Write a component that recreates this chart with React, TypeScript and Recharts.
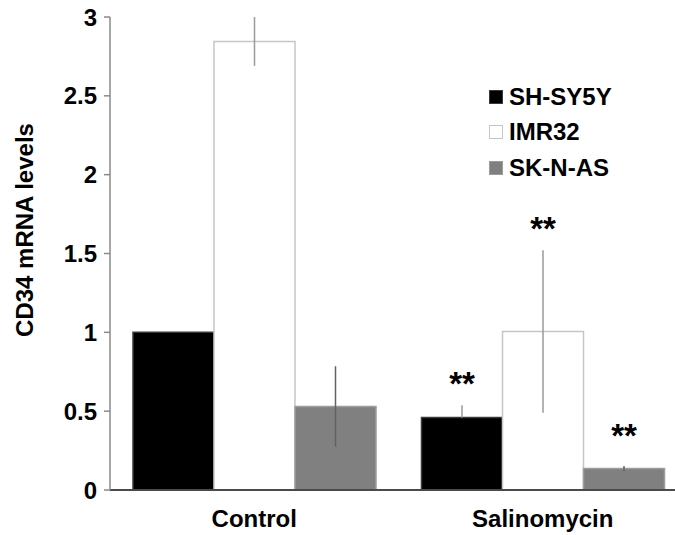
import { Bar, BarChart, ErrorBar, LabelList, Legend, XAxis, YAxis } from "recharts";

const categories = ["Control", "Salinomycin"];

// lower whisker of SH-SY5Y is hidden inside the black bar, only the upper part shows
const shsy5y = [1.0, 0.46];
const shsy5yErrLow = [0, 0];
const shsy5yErrHigh = [0, 0.078];
const shsy5ySig = ["", "**"];

const imr32 = [2.845, 1.005];
const imr32ErrLow = [0.155, 0.515];
const imr32ErrHigh = [0.155, 0.515];
const imr32Sig = ["", "**"];

const sknas = [0.53, 0.137];
const sknasErrLow = [0.255, 0.016];
const sknasErrHigh = [0.255, 0.016];
const sknasSig = ["", "**"];

const yTicks = [0, 0.5, 1, 1.5, 2, 2.5, 3];

const FONT = "'Liberation Sans', Arial, sans-serif";

type Series = {
  key: string;
  name: string;
  fill: string;
  stroke: string;
  errStroke: string;
  values: number[];
  errLow: number[];
  errHigh: number[];
  sig: string[];
};

const series: Series[] = [
  { key: "shsy5y", name: "SH-SY5Y", fill: "#000000", stroke: "#3a3a3a", errStroke: "#9a9a9a", values: shsy5y, errLow: shsy5yErrLow, errHigh: shsy5yErrHigh, sig: shsy5ySig },
  { key: "imr32", name: "IMR32", fill: "#ffffff", stroke: "#c6c6c6", errStroke: "#9a9a9a", values: imr32, errLow: imr32ErrLow, errHigh: imr32ErrHigh, sig: imr32Sig },
  { key: "sknas", name: "SK-N-AS", fill: "#808080", stroke: "#9c9c9c", errStroke: "#626262", values: sknas, errLow: sknasErrLow, errHigh: sknasErrHigh, sig: sknasSig },
];

const data = categories.map((category, i) => {
  const row: Record<string, any> = { category };
  series.forEach((s) => {
    row[s.key] = s.values[i];
    row[s.key + "Err"] = [s.errLow[i], s.errHigh[i]];
    row[s.key + "Sig"] = s.sig[i];
  });
  return row;
});

function sigLabel(s: Series) {
  return (props: any) => {
    const vb = props.viewBox ?? props;
    const { x, y, width, height } = vb;
    const index = props.index ?? 0;
    const mark = s.sig[index];
    if (!mark) return null;
    const unit = height / s.values[index];
    const errTop = y - s.errHigh[index] * unit;
    const baseline = Math.min(errTop - 10, y - 21);
    return (
      <text
        x={x + width / 2}
        y={baseline}
        textAnchor="middle"
        fontSize={33}
        fontWeight="bold"
        fontFamily={FONT}
        fill="#000"
      >
        {mark}
      </text>
    );
  };
}

function LegendBox() {
  return (
    <div style={{ fontFamily: FONT, fontSize: 24, fontWeight: "bold", color: "#000" }}>
      {series.map((s) => (
        <div key={s.key} style={{ display: "flex", alignItems: "center", height: 35.5 }}>
          <span
            style={{
              display: "inline-block",
              width: 12,
              height: 12,
              background: s.fill,
              border: `1px solid ${s.stroke}`,
              marginRight: 6,
            }}
          />
          <span>{s.name}</span>
        </div>
      ))}
    </div>
  );
}

export default function App() {
  return (
    <div
      style={{
        position: "absolute",
        left: 0,
        top: 0,
        width: 675,
        height: 535,
        overflow: "hidden",
        background: "#fff",
      }}
    >
      <BarChart
        width={700}
        height={535}
        data={data}
        margin={{ top: 17, right: 13, bottom: 0, left: 0 }}
        barCategoryGap={23}
        barGap={0}
      >
        <XAxis
          dataKey="category"
          height={45}
          tickLine={false}
          stroke="#4a4a4a"
          strokeWidth={2}
          tickMargin={14}
          tick={{ fontSize: 24, fontWeight: "bold", fill: "#000", fontFamily: FONT }}
        />
        <YAxis
          width={110}
          domain={[0, 3]}
          ticks={yTicks}
          stroke="#8a8a8a"
          strokeWidth={1.5}
          tickSize={6}
          tickMargin={7}
          tick={{ fontSize: 24, fontWeight: "bold", fill: "#000", fontFamily: FONT }}
          label={{
            content: () => (
              <text
                x={33}
                y={230}
                transform="rotate(-90 33 230)"
                textAnchor="middle"
                fontSize={24}
                fontWeight="bold"
                fontFamily={FONT}
                fill="#000"
              >
                CD34 mRNA levels
              </text>
            ),
          }}
        />
        <Legend
          layout="horizontal"
          verticalAlign="middle"
          align="center"
          content={() => <LegendBox />}
          wrapperStyle={{ top: 79, left: 489, width: 180 }}
        />
        {series.map((s) => (
          <Bar
            key={s.key}
            dataKey={s.key}
            name={s.name}
            fill={s.fill}
            stroke={s.stroke}
            strokeWidth={1.5}
            isAnimationActive={false}
          >
            <ErrorBar
              dataKey={s.key + "Err"}
              width={0}
              stroke={s.errStroke}
              strokeWidth={1.5}
              direction="y"
              isAnimationActive={false}
            />
            <LabelList dataKey={s.key + "Sig"} content={sigLabel(s)} />
          </Bar>
        ))}
      </BarChart>
    </div>
  );
}
